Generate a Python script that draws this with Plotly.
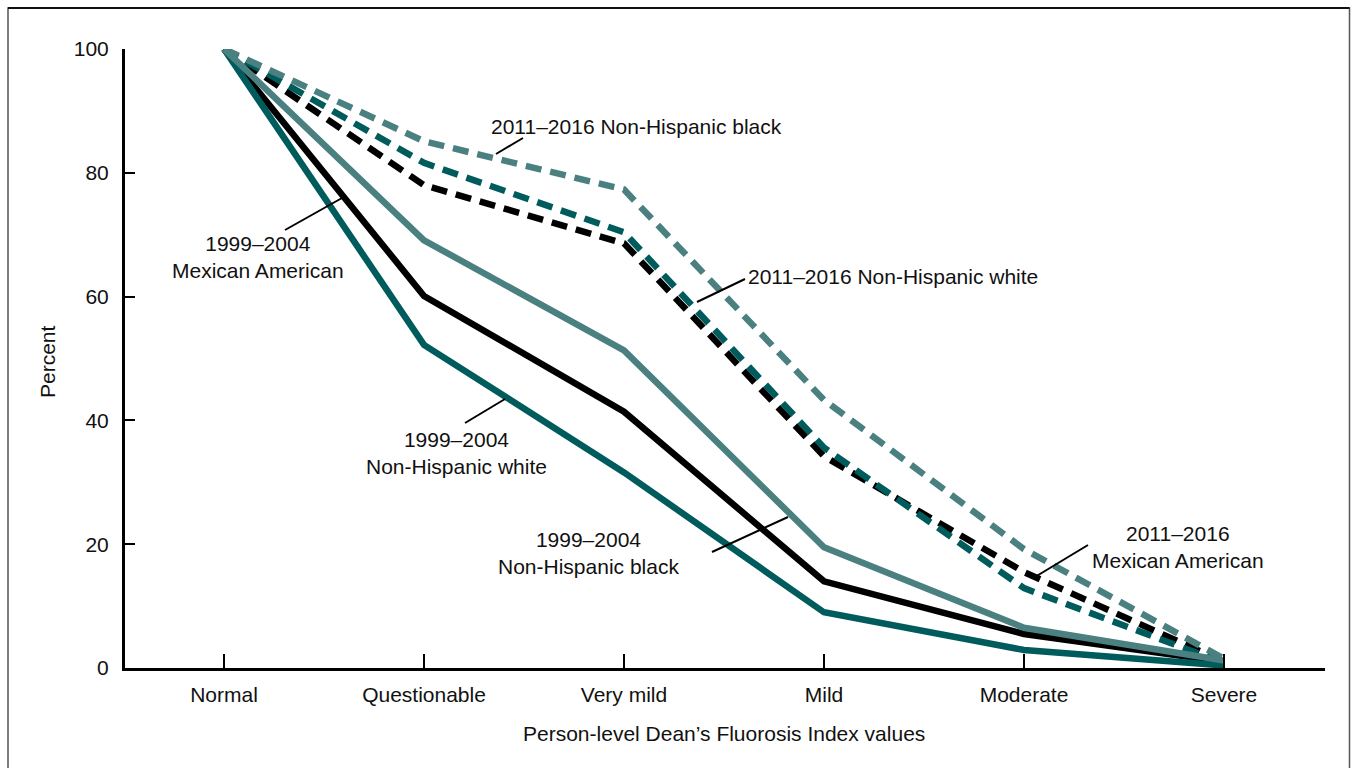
import plotly.graph_objects as go

categories = ["Normal", "Questionable", "Very mild", "Mild", "Moderate", "Severe"]

mex_9904 = [100, 60.1, 41.4, 14.0, 5.5, 1.0]
white_9904 = [100, 52.2, 31.6, 9.0, 2.9, 0.4]
black_9904 = [100, 69.1, 51.3, 19.5, 6.5, 1.2]
black_1116 = [100, 85.1, 77.3, 43.3, 19.2, 1.5]
white_1116 = [100, 81.6, 70.4, 35.6, 12.9, 0.8]
mex_1116 = [100, 78.0, 68.6, 34.2, 15.5, 1.0]

y_ticks = [0, 20, 40, 60, 80, 100]

BLACK = "#000000"
DARK = "#005c5c"
LIGHT = "#4a8080"
FONT = "Liberation Sans, Arial, sans-serif"
FS = 21

L, R, T, B = 125, 26, 49, 100
W, H = 1351, 768
PW, PH = W - L - R, H - T - B


def px(x):
    return (x - L) / PW


def py(y):
    return (H - B - y) / PH


fig = go.Figure()
dash = "16px,9px"
series = [
    ("2011–2016 Mexican American", mex_1116, BLACK, dash),
    ("2011–2016 Non-Hispanic white", white_1116, DARK, dash),
    ("2011–2016 Non-Hispanic black", black_1116, LIGHT, dash),
    ("1999–2004 Mexican American", mex_9904, BLACK, "solid"),
    ("1999–2004 Non-Hispanic white", white_9904, DARK, "solid"),
    ("1999–2004 Non-Hispanic black", black_9904, LIGHT, "solid"),
]
for name, vals, col, d in series:
    fig.add_trace(go.Scatter(
        x=list(range(len(categories))), y=vals, mode="lines", name=name,
        line=dict(color=col, width=6.5, dash=d), showlegend=False,
        hoverinfo="skip"))

# labels: (text, x_px, y_px, leader from, leader to)
labels = [
    ("2011–2016 Non-Hispanic black", 636, 126, (523, 138), (496, 154)),
    ("1999–2004<br>Mexican American", 258, 257, (285, 230), (342, 198)),
    ("2011–2016 Non-Hispanic white", 893, 276, (745, 279), (697, 302)),
    ("1999–2004<br>Non-Hispanic white", 456, 453, (465, 423), (505, 399)),
    ("1999–2004<br>Non-Hispanic black", 588, 553, (712, 552), (788, 517)),
    ("2011–2016<br>Mexican American", 1178, 547, (1088, 545), (1035, 577)),
]
shapes = []
annotations = []
for text, x, y, a, b in labels:
    annotations.append(dict(
        text=text, x=px(x), y=py(y), xref="paper", yref="paper",
        showarrow=False, font=dict(family=FONT, size=FS, color="#111"),
        xanchor="center", yanchor="middle", align="center"))
    shapes.append(dict(type="line", xref="paper", yref="paper",
                       x0=px(a[0]), y0=py(a[1]), x1=px(b[0]), y1=py(b[1]),
                       line=dict(color="#000", width=2)))

# axis titles
annotations.append(dict(text="Person-level Dean’s Fluorosis Index values",
                        x=px(724), y=py(733), xref="paper", yref="paper",
                        showarrow=False, font=dict(family=FONT, size=FS, color="#111"),
                        xanchor="center", yanchor="middle"))
annotations.append(dict(text="Percent", x=px(47), y=py(362), xref="paper", yref="paper",
                        showarrow=False, textangle=-90,
                        font=dict(family=FONT, size=FS, color="#111"),
                        xanchor="center", yanchor="middle"))

# outer frame
shapes.append(dict(type="rect", xref="paper", yref="paper",
                   x0=px(8), y0=py(780), x1=px(1349.5), y1=py(8),
                   line=dict(color="#555", width=1.5), layer="below"))
shapes.append(dict(type="line", xref="paper", yref="paper",
                   x0=px(8), y0=py(8), x1=px(1349.5), y1=py(8),
                   line=dict(color="#111", width=2)))

fig.update_layout(
    width=W, height=H,
    margin=dict(l=L, r=R, t=T, b=B),
    paper_bgcolor="white", plot_bgcolor="white",
    font=dict(family=FONT, size=FS, color="#111"),
    shapes=shapes, annotations=annotations,
    xaxis=dict(
        range=[-0.495, 5.505], tickmode="array",
        tickvals=list(range(len(categories))), ticktext=categories,
        ticks="inside", ticklen=14, tickwidth=2, tickcolor="#000",
        showline=True, linecolor="#000", linewidth=3,
        showgrid=False, zeroline=False, ticklabelstandoff=6,
    ),
    yaxis=dict(
        range=[0, 100], tickmode="array", tickvals=y_ticks,
        ticks="inside", ticklen=10, tickwidth=2, tickcolor="#000",
        showline=True, linecolor="#000", linewidth=3,
        showgrid=False, zeroline=False, ticklabelstandoff=9,
    ),
)

fig.write_html("out.html")
